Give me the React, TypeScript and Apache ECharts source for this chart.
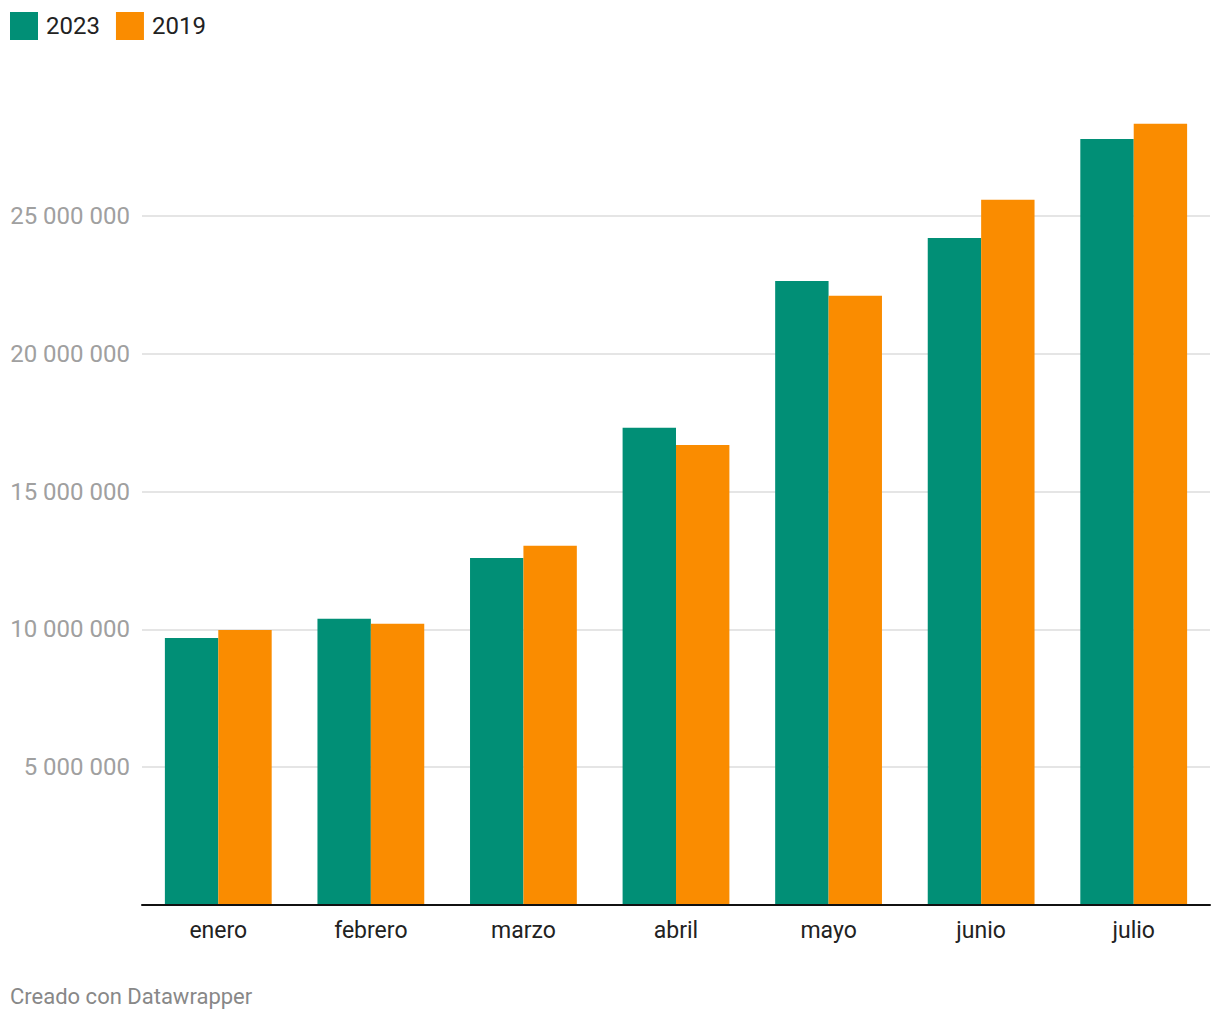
import React, { useEffect, useRef } from "react";
import * as echarts from "echarts";

const categories = ["enero", "febrero", "marzo", "abril", "mayo", "junio", "julio"];
const series2023 = [9690000, 10380000, 12590000, 17310000, 22640000, 24200000, 27790000];
const series2019 = [9980000, 10200000, 13030000, 16690000, 22100000, 25580000, 28340000];
const seriesNames = ["2023", "2019"];
const colors = ["#018f76", "#fa8c00"];
const footerText = "Creado con Datawrapper";

const fmt = (v: number) =>
  String(Math.round(v)).replace(/\B(?=(\d{3})+(?!\d))/g, " ");

export default function App() {
  const ref = useRef<HTMLDivElement>(null);
  useEffect(() => {
    if (!ref.current) return;
    const chart = echarts.init(ref.current, null, { renderer: "svg" });
    chart.setOption({
      animation: false,
      color: colors,
      textStyle: { fontFamily: "Roboto" },
      legend: {
        left: 10,
        top: 12,
        padding: 0,
        itemWidth: 28,
        itemHeight: 28,
        itemGap: 16,
        icon: "rect",
        textStyle: { fontSize: 24, color: "#222", fontFamily: "Roboto", padding: [0, 0, 0, 3] },
        data: seriesNames,
      },
      grid: { left: 142, right: 10, top: 78, bottom: 115, containLabel: false },
      xAxis: {
        type: "category",
        data: categories,
        axisLine: { show: true, lineStyle: { color: "#111", width: 2 } },
        axisTick: { show: false },
        axisLabel: { fontSize: 23, color: "#222", margin: 14, fontFamily: "Roboto" },
        z: 10,
      },
      yAxis: {
        type: "value",
        min: 0,
        max: 30000000,
        interval: 5000000,
        axisLine: { show: false },
        axisTick: { show: false },
        axisLabel: {
          fontSize: 24,
          color: "#a0a0a0",
          margin: 12,
          fontFamily: "Roboto",
          showMinLabel: false,
          showMaxLabel: false,
          formatter: (v: number) => (v === 0 || v >= 30000000 ? "" : fmt(v)),
        },
        splitLine: {
          show: true,
          showMinLine: false,
          showMaxLine: false,
          lineStyle: { color: "#e5e5e5", width: 2 },
        },
      },
      series: [
        {
          name: seriesNames[0],
          type: "bar",
          data: series2023,
          barGap: "0%",
          barCategoryGap: "30%",
        },
        {
          name: seriesNames[1],
          type: "bar",
          data: series2019,
          barGap: "0%",
          barCategoryGap: "30%",
        },
      ],
      graphic: [
        {
          type: "text",
          left: 10,
          top: 985,
          style: { text: footerText, fontSize: 22, fill: "#888", fontFamily: "Roboto" },
        },
      ],
    });
    return () => chart.dispose();
  }, []);
  return (
    <div
      ref={ref}
      style={{ position: "fixed", left: 0, top: 0, width: 1220, height: 1020, background: "#fff" }}
    />
  );
}
